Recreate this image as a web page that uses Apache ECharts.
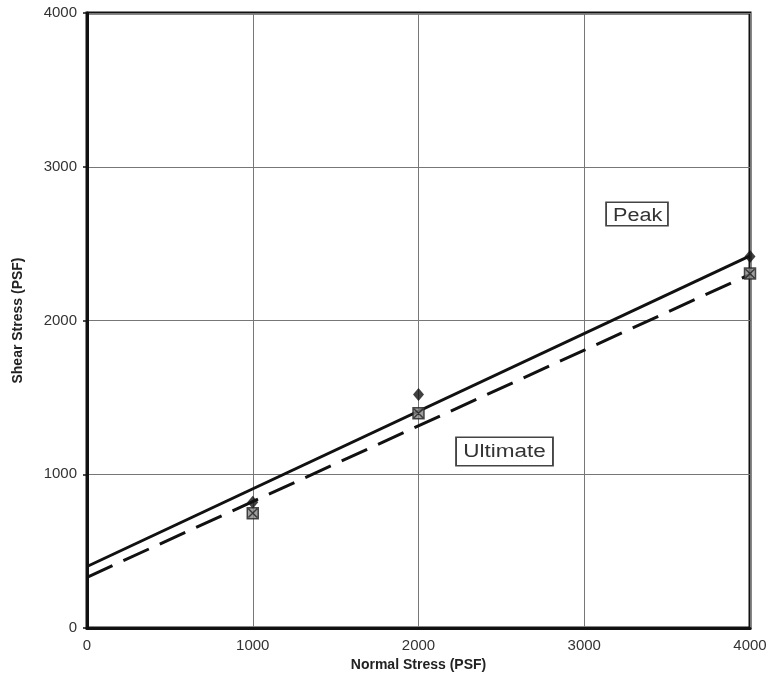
<!DOCTYPE html>
<html>
<head>
<meta charset="utf-8">
<script src="https://cdn.jsdelivr.net/npm/echarts@6/dist/echarts.min.js"></script>
<style>
  html, body { margin: 0; padding: 0; background: #fff; }
  #chart { width: 771px; height: 696px; }
</style>
</head>
<body>
<div id="chart"></div>
<script>
// test points
let normalStress = [1000, 2000, 4000];
let peakShear = [818, 1519, 2416];
let ultimateShear = [747, 1396, 2305];

// best fit lines, end points
let peakFit = [[0, 400], [4000, 2420]];
let ultimateFit = [[0, 330], [4000, 2300]];

let boxX = 'path://M0,0L10,0L10,10L0,10Z M1,1L9,9 M9,1L1,9';

function pairs(xs, ys) {
    return xs.map(function (x, i) { return [x, ys[i]]; });
}

let chart = echarts.init(document.getElementById('chart'));

let font = 'Arial, Liberation Sans, sans-serif';
let axisText = { color: '#333', fontFamily: font, fontSize: 15, formatter: function (v) { return String(v); } };

function labelBox(text, x, y, pad, sx) {
    return {
        type: 'text',
        x: x, y: y,
        scaleX: sx,
        style: {
            text: text,
            fontSize: 18,
            fontFamily: font,
            fill: '#333',
            backgroundColor: '#fff',
            borderColor: '#444',
            borderWidth: 1.5,
            padding: pad,
        },
        z: 10,
    };
}

chart.setOption({
    backgroundColor: '#fff',
    animation: false,
    grid: {
        left: 87, right: 21, top: 13, bottom: 68,
        show: true,
        borderColor: '#111',
        borderWidth: 3,
    },
    xAxis: {
        type: 'value',
        min: 0, max: 4000, interval: 1000,
        name: 'Normal Stress (PSF)',
        nameLocation: 'middle',
        nameGap: 25,
        nameTextStyle: { color: '#222', fontWeight: 'bold', fontSize: 14, fontFamily: font },
        axisLine: { lineStyle: { color: '#111', width: 3 } },
        axisTick: { show: false },
        axisLabel: Object.assign({ margin: 10 }, axisText),
        splitLine: { lineStyle: { color: '#777', width: 1 } },
    },
    yAxis: {
        type: 'value',
        min: 0, max: 4000, interval: 1000,
        name: 'Shear Stress (PSF)',
        nameLocation: 'middle',
        nameGap: 62,
        nameTextStyle: { color: '#222', fontWeight: 'bold', fontSize: 14, fontFamily: font },
        axisLine: { lineStyle: { color: '#111', width: 3 } },
        axisTick: { show: true, length: 4, lineStyle: { color: '#111', width: 1.5 } },
        axisLabel: Object.assign({ margin: 10 }, axisText),
        splitLine: { lineStyle: { color: '#777', width: 1 } },
    },
    series: [
        {
            name: 'Peak fit',
            type: 'line',
            data: peakFit,
            showSymbol: false,
            lineStyle: { color: '#111', width: 3 },
            z: 3,
        },
        {
            name: 'Ultimate fit',
            type: 'line',
            data: ultimateFit,
            showSymbol: false,
            lineStyle: { color: '#111', width: 3, type: [28, 12] },
            z: 3,
        },
        {
            name: 'Peak',
            type: 'scatter',
            data: pairs(normalStress, peakShear),
            symbol: 'diamond',
            symbolSize: [11, 13],
            itemStyle: { color: '#111' },
            z: 4,
        },
        {
            name: 'Ultimate',
            type: 'scatter',
            data: pairs(normalStress, ultimateShear),
            symbol: boxX,
            symbolSize: 11,
            itemStyle: { color: '#888', borderColor: '#222', borderWidth: 1.5 },
            z: 5,
        },
    ],
    graphic: [
        labelBox('Peak', 607, 203, [4, 4, 0, 5], 1.2),
        labelBox('Ultimate', 457, 438, [5, 5, 4, 5], 1.25),
    ],
});
</script>
</body>
</html>
